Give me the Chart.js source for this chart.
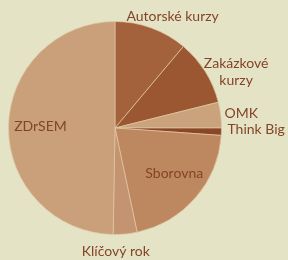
<!DOCTYPE html>
<html>
<head>
<meta charset="utf-8">
<script src="https://cdn.jsdelivr.net/npm/chart.js@4"></script>
<style>
  html, body { margin: 0; padding: 0; background: #e5e3c5; }
  #wrap { width: 288px; height: 260px; }
</style>
</head>
<body>
<div id="wrap"><canvas id="pieChart" width="288" height="260"></canvas></div>
<script>
const categories = ["Autorské kurzy", ["Zakázkové", "kurzy"], "OMK", "Think Big", "Sborovna", "Klíčový rok", "ZDrSEM"];
const shares = [40, 36, 14, 4, 74, 13, 179];
const sliceColors = ["#a3613c", "#9a5732", "#caa27b", "#8a4727", "#bd875f", "#c49370", "#c9a07a"];
// label placement: inside labels sit at a fraction of the radius, others just outside
const labelInside = [false, false, false, false, true, false, true];
const labelNudge = [[4, 0], [0, 12], [0, 0], [2, -3], [3, -3], [-13, 5], [0, -1]];

const labelPlugin = {
  id: "sliceLabels",
  afterDatasetsDraw(chart) {
    const ctx = chart.ctx;
    const meta = chart.getDatasetMeta(0);
    ctx.save();
    ctx.font = "14px Lato";
    ctx.fillStyle = "#834527";
    ctx.textAlign = "center";
    ctx.textBaseline = "middle";
    const lineH = 17;
    meta.data.forEach((arc, i) => {
      const p = arc.getProps(["x", "y", "startAngle", "endAngle", "outerRadius"], true);
      const mid = (p.startAngle + p.endAngle) / 2;
      const lines = Array.isArray(categories[i]) ? categories[i] : [categories[i]];
      let cx, cy;
      if (labelInside[i]) {
        const r = p.outerRadius * 0.7;
        cx = p.x + Math.cos(mid) * r;
        cy = p.y + Math.sin(mid) * r;
      } else {
        const r = p.outerRadius + 4;
        const w = Math.max(...lines.map(l => ctx.measureText(l).width));
        const h = lines.length * lineH;
        cx = p.x + Math.cos(mid) * r + Math.cos(mid) * w / 2;
        cy = p.y + Math.sin(mid) * r + Math.sin(mid) * h / 2;
      }
      cx += labelNudge[i][0];
      cy += labelNudge[i][1];
      lines.forEach((l, k) => {
        ctx.fillText(l, cx, cy + (k - (lines.length - 1) / 2) * lineH);
      });
    });
    ctx.restore();
  }
};

new Chart(document.getElementById("pieChart").getContext("2d"), {
  type: "pie",
  data: {
    labels: categories,
    datasets: [{
      data: shares,
      backgroundColor: sliceColors,
      borderColor: "rgba(225,200,165,0.7)",
      borderWidth: 1
    }]
  },
  options: {
    responsive: false,
    animation: false,
    layout: { padding: { left: 8, right: 66, top: 21, bottom: 25 } },
    plugins: {
      legend: { display: false },
      tooltip: { enabled: false }
    }
  },
  plugins: [labelPlugin]
});
</script>
</body>
</html>
